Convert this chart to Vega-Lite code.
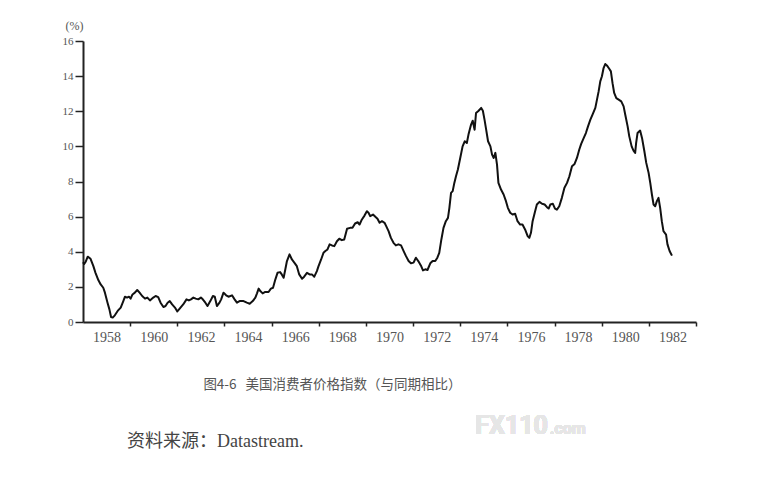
{
  "$schema": "https://vega.github.io/schema/vega-lite/v6.json",
  "width": 613,
  "height": 281,
  "autosize": {"type": "none"},
  "padding": {"left": 83, "top": 41, "right": 75, "bottom": 156},
  "background": "white",
  "config": {"view": {"stroke": null}},
  "title": {
    "text": "资料来源：Datastream.",
    "orient": "bottom",
    "anchor": "start",
    "frame": "group",
    "dx": 44,
    "offset": -6,
    "font": "'Liberation Serif', 'Noto Sans CJK SC', serif",
    "fontSize": 18,
    "fontWeight": "normal",
    "color": "#444444"
  },
  "data": {
    "values": [
      {"t": 1957.00, "v": 3.4}, {"t": 1957.05, "v": 3.3}, {"t": 1957.12, "v": 3.45}, {"t": 1957.20, "v": 3.72},
      {"t": 1957.32, "v": 3.6}, {"t": 1957.44, "v": 3.18}, {"t": 1957.53, "v": 2.8}, {"t": 1957.65, "v": 2.39},
      {"t": 1957.75, "v": 2.14}, {"t": 1957.86, "v": 1.95}, {"t": 1957.93, "v": 1.67}, {"t": 1958.04, "v": 1.1},
      {"t": 1958.12, "v": 0.72}, {"t": 1958.19, "v": 0.28}, {"t": 1958.26, "v": 0.25}, {"t": 1958.35, "v": 0.38},
      {"t": 1958.47, "v": 0.63}, {"t": 1958.60, "v": 0.82}, {"t": 1958.71, "v": 1.19}, {"t": 1958.78, "v": 1.44},
      {"t": 1958.87, "v": 1.39}, {"t": 1958.95, "v": 1.44}, {"t": 1959.02, "v": 1.33}, {"t": 1959.10, "v": 1.57},
      {"t": 1959.20, "v": 1.67}, {"t": 1959.30, "v": 1.82}, {"t": 1959.40, "v": 1.67}, {"t": 1959.51, "v": 1.48},
      {"t": 1959.63, "v": 1.33}, {"t": 1959.73, "v": 1.39}, {"t": 1959.84, "v": 1.23}, {"t": 1959.98, "v": 1.39},
      {"t": 1960.08, "v": 1.48}, {"t": 1960.19, "v": 1.42}, {"t": 1960.29, "v": 1.1}, {"t": 1960.41, "v": 0.85},
      {"t": 1960.50, "v": 0.91}, {"t": 1960.59, "v": 1.1}, {"t": 1960.68, "v": 1.19}, {"t": 1960.78, "v": 1.0},
      {"t": 1960.90, "v": 0.82}, {"t": 1961.00, "v": 0.6}, {"t": 1961.10, "v": 0.76}, {"t": 1961.25, "v": 1.0},
      {"t": 1961.39, "v": 1.29}, {"t": 1961.49, "v": 1.23}, {"t": 1961.58, "v": 1.29}, {"t": 1961.68, "v": 1.39},
      {"t": 1961.78, "v": 1.33}, {"t": 1961.89, "v": 1.29}, {"t": 1962.00, "v": 1.39}, {"t": 1962.08, "v": 1.29},
      {"t": 1962.19, "v": 1.1}, {"t": 1962.28, "v": 0.91}, {"t": 1962.40, "v": 1.19}, {"t": 1962.51, "v": 1.48},
      {"t": 1962.59, "v": 1.44}, {"t": 1962.68, "v": 0.91}, {"t": 1962.79, "v": 1.1}, {"t": 1962.86, "v": 1.29},
      {"t": 1962.96, "v": 1.67}, {"t": 1963.07, "v": 1.52}, {"t": 1963.17, "v": 1.44}, {"t": 1963.32, "v": 1.52},
      {"t": 1963.43, "v": 1.29}, {"t": 1963.53, "v": 1.1}, {"t": 1963.64, "v": 1.19}, {"t": 1963.81, "v": 1.19},
      {"t": 1963.95, "v": 1.1}, {"t": 1964.07, "v": 1.04}, {"t": 1964.20, "v": 1.19}, {"t": 1964.31, "v": 1.39},
      {"t": 1964.38, "v": 1.63}, {"t": 1964.45, "v": 1.9}, {"t": 1964.52, "v": 1.76}, {"t": 1964.62, "v": 1.63},
      {"t": 1964.73, "v": 1.71}, {"t": 1964.87, "v": 1.71}, {"t": 1964.97, "v": 1.9}, {"t": 1965.06, "v": 1.95},
      {"t": 1965.16, "v": 2.43}, {"t": 1965.25, "v": 2.8}, {"t": 1965.36, "v": 2.84}, {"t": 1965.43, "v": 2.71},
      {"t": 1965.51, "v": 2.52}, {"t": 1965.58, "v": 2.99}, {"t": 1965.65, "v": 3.47}, {"t": 1965.76, "v": 3.85},
      {"t": 1965.86, "v": 3.56}, {"t": 1965.97, "v": 3.37}, {"t": 1966.07, "v": 3.18}, {"t": 1966.17, "v": 2.71},
      {"t": 1966.29, "v": 2.46}, {"t": 1966.38, "v": 2.58}, {"t": 1966.50, "v": 2.8}, {"t": 1966.61, "v": 2.71},
      {"t": 1966.71, "v": 2.71}, {"t": 1966.81, "v": 2.58}, {"t": 1966.92, "v": 2.9}, {"t": 1966.99, "v": 3.18},
      {"t": 1967.10, "v": 3.56}, {"t": 1967.20, "v": 3.94}, {"t": 1967.28, "v": 4.04}, {"t": 1967.37, "v": 4.13},
      {"t": 1967.46, "v": 4.42}, {"t": 1967.56, "v": 4.36}, {"t": 1967.66, "v": 4.32}, {"t": 1967.77, "v": 4.6},
      {"t": 1967.87, "v": 4.74}, {"t": 1967.98, "v": 4.66}, {"t": 1968.08, "v": 4.7}, {"t": 1968.20, "v": 5.31},
      {"t": 1968.33, "v": 5.36}, {"t": 1968.43, "v": 5.36}, {"t": 1968.54, "v": 5.61}, {"t": 1968.65, "v": 5.68},
      {"t": 1968.73, "v": 5.55}, {"t": 1968.83, "v": 5.84}, {"t": 1968.94, "v": 6.06}, {"t": 1969.04, "v": 6.31},
      {"t": 1969.11, "v": 6.22}, {"t": 1969.18, "v": 6.03}, {"t": 1969.30, "v": 6.12}, {"t": 1969.40, "v": 5.99},
      {"t": 1969.49, "v": 5.88}, {"t": 1969.58, "v": 5.65}, {"t": 1969.68, "v": 5.74}, {"t": 1969.79, "v": 5.65},
      {"t": 1969.86, "v": 5.46}, {"t": 1969.96, "v": 5.17}, {"t": 1970.06, "v": 4.79}, {"t": 1970.17, "v": 4.51},
      {"t": 1970.27, "v": 4.36}, {"t": 1970.38, "v": 4.42}, {"t": 1970.49, "v": 4.36}, {"t": 1970.60, "v": 4.04},
      {"t": 1970.70, "v": 3.75}, {"t": 1970.81, "v": 3.47}, {"t": 1970.91, "v": 3.34}, {"t": 1971.02, "v": 3.38},
      {"t": 1971.12, "v": 3.66}, {"t": 1971.22, "v": 3.47}, {"t": 1971.33, "v": 3.22}, {"t": 1971.42, "v": 2.94},
      {"t": 1971.52, "v": 3.0}, {"t": 1971.61, "v": 2.96}, {"t": 1971.73, "v": 3.34}, {"t": 1971.83, "v": 3.47},
      {"t": 1971.94, "v": 3.47}, {"t": 1972.03, "v": 3.66}, {"t": 1972.11, "v": 3.94}, {"t": 1972.20, "v": 4.7},
      {"t": 1972.29, "v": 5.36}, {"t": 1972.39, "v": 5.74}, {"t": 1972.48, "v": 5.93}, {"t": 1972.54, "v": 6.5},
      {"t": 1972.61, "v": 7.35}, {"t": 1972.68, "v": 7.45}, {"t": 1972.75, "v": 7.92}, {"t": 1972.82, "v": 8.3},
      {"t": 1972.90, "v": 8.68}, {"t": 1973.00, "v": 9.34}, {"t": 1973.10, "v": 10.0}, {"t": 1973.19, "v": 10.29},
      {"t": 1973.28, "v": 10.19}, {"t": 1973.35, "v": 10.67}, {"t": 1973.46, "v": 11.24}, {"t": 1973.53, "v": 11.46},
      {"t": 1973.61, "v": 10.95}, {"t": 1973.67, "v": 11.9}, {"t": 1973.78, "v": 12.03}, {"t": 1973.89, "v": 12.19},
      {"t": 1973.96, "v": 12.03}, {"t": 1974.03, "v": 11.52}, {"t": 1974.10, "v": 10.95}, {"t": 1974.18, "v": 10.29},
      {"t": 1974.28, "v": 10.0}, {"t": 1974.35, "v": 9.53}, {"t": 1974.42, "v": 9.34}, {"t": 1974.49, "v": 9.63},
      {"t": 1974.56, "v": 8.96}, {"t": 1974.62, "v": 7.92}, {"t": 1974.73, "v": 7.54}, {"t": 1974.84, "v": 7.26},
      {"t": 1974.94, "v": 6.88}, {"t": 1975.02, "v": 6.5}, {"t": 1975.12, "v": 6.22}, {"t": 1975.22, "v": 6.12},
      {"t": 1975.33, "v": 6.16}, {"t": 1975.43, "v": 5.74}, {"t": 1975.54, "v": 5.55}, {"t": 1975.64, "v": 5.55},
      {"t": 1975.75, "v": 5.27}, {"t": 1975.86, "v": 4.89}, {"t": 1975.93, "v": 4.79}, {"t": 1976.00, "v": 5.08},
      {"t": 1976.07, "v": 5.74}, {"t": 1976.16, "v": 6.22}, {"t": 1976.25, "v": 6.69}, {"t": 1976.36, "v": 6.84},
      {"t": 1976.47, "v": 6.73}, {"t": 1976.58, "v": 6.69}, {"t": 1976.68, "v": 6.54}, {"t": 1976.75, "v": 6.46},
      {"t": 1976.82, "v": 6.69}, {"t": 1976.93, "v": 6.73}, {"t": 1977.02, "v": 6.46}, {"t": 1977.10, "v": 6.4},
      {"t": 1977.20, "v": 6.59}, {"t": 1977.31, "v": 7.07}, {"t": 1977.42, "v": 7.64}, {"t": 1977.53, "v": 7.92},
      {"t": 1977.63, "v": 8.3}, {"t": 1977.74, "v": 8.87}, {"t": 1977.85, "v": 9.0}, {"t": 1977.95, "v": 9.34},
      {"t": 1978.05, "v": 9.82}, {"t": 1978.13, "v": 10.14}, {"t": 1978.24, "v": 10.48}, {"t": 1978.33, "v": 10.76},
      {"t": 1978.42, "v": 11.14}, {"t": 1978.52, "v": 11.52}, {"t": 1978.62, "v": 11.84}, {"t": 1978.73, "v": 12.19},
      {"t": 1978.80, "v": 12.66}, {"t": 1978.87, "v": 13.13}, {"t": 1978.94, "v": 13.7}, {"t": 1979.01, "v": 13.99},
      {"t": 1979.08, "v": 14.46}, {"t": 1979.15, "v": 14.69}, {"t": 1979.22, "v": 14.61}, {"t": 1979.32, "v": 14.42},
      {"t": 1979.39, "v": 14.27}, {"t": 1979.46, "v": 13.6}, {"t": 1979.53, "v": 13.04}, {"t": 1979.62, "v": 12.75},
      {"t": 1979.72, "v": 12.66}, {"t": 1979.83, "v": 12.56}, {"t": 1979.93, "v": 12.28}, {"t": 1980.00, "v": 11.8},
      {"t": 1980.10, "v": 11.14}, {"t": 1980.17, "v": 10.57}, {"t": 1980.27, "v": 10.0}, {"t": 1980.35, "v": 9.76},
      {"t": 1980.42, "v": 9.63}, {"t": 1980.46, "v": 10.19}, {"t": 1980.52, "v": 10.76}, {"t": 1980.63, "v": 10.9},
      {"t": 1980.71, "v": 10.48}, {"t": 1980.81, "v": 9.72}, {"t": 1980.89, "v": 9.06}, {"t": 1980.99, "v": 8.49},
      {"t": 1981.06, "v": 7.92}, {"t": 1981.13, "v": 7.26}, {"t": 1981.20, "v": 6.69}, {"t": 1981.27, "v": 6.59},
      {"t": 1981.34, "v": 6.88}, {"t": 1981.41, "v": 7.07}, {"t": 1981.48, "v": 6.5}, {"t": 1981.55, "v": 5.74},
      {"t": 1981.62, "v": 5.17}, {"t": 1981.73, "v": 4.98}, {"t": 1981.79, "v": 4.42}, {"t": 1981.88, "v": 4.04},
      {"t": 1981.98, "v": 3.78}
    ]
  },
  "layer": [
    {
      "mark": {"type": "line", "color": "#111111", "strokeWidth": 2, "strokeJoin": "round"},
      "encoding": {
        "x": {
          "field": "t",
          "type": "quantitative",
          "scale": {"domain": [1957, 1983], "nice": false, "zero": false},
          "axis": {
            "values": [1958, 1960, 1962, 1964, 1966, 1968, 1970, 1972, 1974, 1976, 1978, 1980, 1982],
            "tickCount": 13,
            "format": "d",
            "grid": false,
            "tickOffset": 23.6,
            "labelOffset": -23.6,
            "tickSize": 4,
            "tickWidth": 1.5,
            "tickColor": "#222222",
            "domainColor": "#222222",
            "domainWidth": 2,
            "labelFont": "'Liberation Serif', serif",
            "labelFontSize": 14,
            "labelColor": "#555555",
            "labelPadding": 4,
            "labelFlush": false,
            "labelOverlap": false,
            "title": "图4-6\u00a0\u00a0\u00a0美国消费者价格指数（与同期相比）",
            "titleFont": "'Noto Sans CJK SC'",
            "titleFontSize": 13.5,
            "titleFontWeight": "normal",
            "titleColor": "#555555",
            "titleX": 249,
            "titleY": 62,
            "titleAlign": "center",
            "titleBaseline": "middle"
          }
        },
        "y": {
          "field": "v",
          "type": "quantitative",
          "scale": {"domain": [0, 16], "nice": false},
          "axis": {
            "values": [0, 2, 4, 6, 8, 10, 12, 14, 16],
            "tickCount": 9,
            "grid": false,
            "tickSize": 8,
            "tickWidth": 1.5,
            "tickColor": "#222222",
            "domainColor": "#222222",
            "domainWidth": 2,
            "labelFont": "'Liberation Serif', serif",
            "labelFontSize": 11,
            "labelColor": "#555555",
            "labelPadding": 2,
            "labelFlush": false,
            "labelOverlap": false,
            "title": "(%)",
            "titleAngle": 0,
            "titleX": -9,
            "titleY": -16,
            "titleAlign": "center",
            "titleBaseline": "middle",
            "titleFont": "'Liberation Serif', serif",
            "titleFontSize": 12,
            "titleFontWeight": "normal",
            "titleColor": "#555555"
          }
        }
      }
    },
    {
      "mark": {"type": "text", "text": "FX110", "align": "right", "baseline": "alphabetic", "font": "Roboto", "fontSize": 25, "fontWeight": "bold", "color": "#e6e6e6"},
      "encoding": {
        "x": {"datum": 1976.72, "type": "quantitative"},
        "y": {"datum": -6.4, "type": "quantitative"}
      }
    },
    {
      "mark": {"type": "text", "text": ".com", "align": "left", "baseline": "alphabetic", "font": "Roboto", "fontSize": 16, "fontWeight": "bold", "color": "#e6e6e6"},
      "encoding": {
        "x": {"datum": 1976.8, "type": "quantitative"},
        "y": {"datum": -6.4, "type": "quantitative"}
      }
    }
  ]
}
